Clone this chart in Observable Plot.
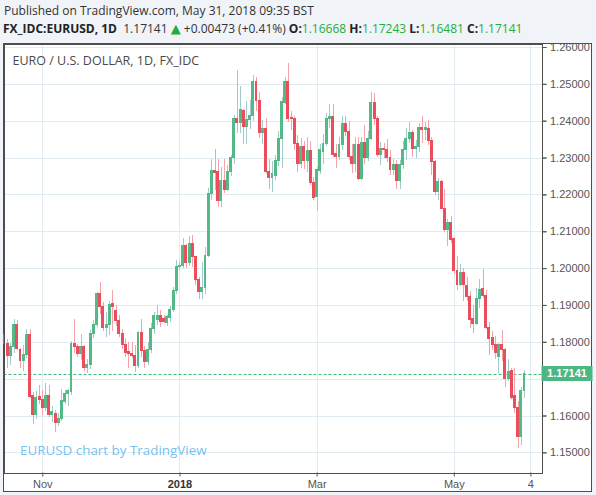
<!DOCTYPE html>
<html>
<head>
<meta charset="utf-8">
<script src="https://cdn.jsdelivr.net/npm/d3@7"></script>
<script src="https://cdn.jsdelivr.net/npm/@observablehq/plot@0.6"></script>
<style>
  html, body { margin: 0; padding: 0; background: #f0f3f7; }
  body { width: 596px; height: 495px; overflow: hidden; position: relative; }
  #hdr { height: 43px; position: relative; font-family: "Open Sans", sans-serif; color: #333; }
  #l1 { position: absolute; left: 4px; top: 2px; font-size: 12px; white-space: nowrap; }
  #l2 { position: absolute; left: 3px; top: 20px; font-size: 12px; white-space: nowrap; }
  #l2 b { font-weight: 700; color: #222; }
  #l2 .g { color: #1fae3a; }
  #l2 .tri { color: #1fae3a; font-size: 13px; font-family: "DejaVu Sans", sans-serif; }
  #wrap { position: relative; width: 596px; height: 452px; }
  #panel { position: absolute; left: 3px; top: 0px; width: 587px; height: 447px; background: #fff; border: 1px solid #4d4d4d; }
  #chart { position: absolute; left: 0; top: 0; }
</style>
</head>
<body>
<div id="hdr">
  <div id="l1">Published on TradingView.com, May 31, 2018 09:35 BST</div>
  <div id="l2"><b>FX_IDC:EURUSD, 1D</b>&nbsp; 1.17141 <span class="tri">▲</span> +0.00473 (+0.41%) <b>O:</b><span class="g">1.16668</span> <b>H:</b><span class="g">1.17243</span> <b>L:</b><span class="g">1.16481</span> <b>C:</b><span class="g">1.17141</span></div>
</div>
<div id="wrap"><div id="panel"></div><div id="chart"></div></div>
<script>
// ---- data (daily bars, weekdays from 2017-10-16 to 2018-05-31) ----
const firstDay = "2017-10-16";
const open = [
1.1819,1.1796,1.1764,1.1788,1.1846,1.1778,1.1750,1.1766,1.1820,1.1653,1.1604,1.1651,
1.1644,1.1622,1.1655,1.1604,1.1606,1.1581,1.1593,1.1638,1.1660,1.1665,1.1796,1.1787,1.1767,1.1786,1.1731,1.1739,1.1823,1.1848,1.1932,1.1897,1.1838,1.1846,
1.1905,1.1884,1.1859,1.1822,1.1794,1.1773,1.1768,1.1764,1.1736,1.1824,1.1776,1.1746,1.1780,1.1837,1.1861,1.1872,1.1862,1.1853,1.1865,1.1888,1.1940,
1.2003,1.2008,1.2061,1.2016,1.2068,1.2031,1.1968,1.1936,1.1948,1.2034,1.2203,1.2265,1.2261,1.2184,1.2237,1.2214,1.2261,1.2300,1.2407,1.2394,1.2428,1.2383,1.2403,
1.2414,1.2507,1.2455,1.2367,1.2379,1.2263,1.2247,1.2250,1.2293,1.2351,1.2449,1.2507,1.2408,1.2407,1.2338,1.2284,1.2329,1.2292,1.2320,1.2233,
1.2195,1.2265,1.2317,1.2338,1.2406,1.2411,1.2311,1.2303,1.2335,1.2393,1.2372,1.2303,1.2283,1.2335,1.2242,1.2341,1.2301,1.2353,1.2450,1.2406,1.2308,1.2324,
1.2322,1.2301,1.2268,1.2281,1.2238,1.2281,1.2322,1.2353,1.2368,1.2324,1.2329,1.2381,1.2375,1.2379,1.2345,1.2288,1.2208,1.2234,1.2163,1.2105,1.2125,
1.2079,1.1993,1.1955,1.1988,1.1954,1.1923,1.1863,1.1851,1.1917,1.1945,1.1926,1.1838,1.1811,1.1794,1.1759,1.1793,1.1779,1.1701,1.1722,1.1654,1.1623,1.1543,1.16668
];
const high = [
1.1835,1.1808,1.1796,1.1861,1.1860,1.1784,1.1790,1.1834,1.1834,1.1665,1.1667,1.1683,
1.1669,1.1687,1.1683,1.1626,1.1614,1.1608,1.1673,1.1668,1.1672,1.1802,1.1861,1.1795,1.1822,1.1792,1.1752,1.1832,1.1858,1.1936,1.1961,1.1908,1.1880,1.1910,
1.1940,1.1900,1.1872,1.1835,1.1810,1.1799,1.1800,1.1790,1.1830,1.1862,1.1789,1.1800,1.1850,1.1880,1.1900,1.1885,1.1872,1.1874,1.1897,1.1950,1.2022,
1.2020,1.2081,1.2066,1.2088,1.2090,1.2034,1.1975,1.2016,1.2058,1.2218,1.2296,1.2323,1.2296,1.2274,1.2296,1.2281,1.2306,1.2415,1.2538,1.2493,1.2432,1.2453,1.2456,
1.2524,1.2518,1.2478,1.2403,1.2406,1.2296,1.2290,1.2307,1.2373,1.2463,1.2518,1.2557,1.2427,1.2413,1.2362,1.2353,1.2345,1.2356,1.2346,1.2248,
1.2274,1.2336,1.2365,1.2420,1.2446,1.2446,1.2336,1.2356,1.2412,1.2413,1.2398,1.2337,1.2355,1.2356,1.2355,1.2387,1.2371,1.2477,1.2476,1.2414,1.2341,1.2339,
1.2349,1.2320,1.2296,1.2293,1.2294,1.2345,1.2379,1.2396,1.2376,1.2348,1.2395,1.2414,1.2397,1.2402,1.2355,1.2293,1.2245,1.2240,1.2215,1.2134,1.2141,
1.2084,1.2034,1.2011,1.1999,1.1977,1.1938,1.1899,1.1947,1.1970,1.1997,1.1941,1.1855,1.1829,1.1815,1.1797,1.1832,1.1784,1.1752,1.1729,1.1729,1.1638,1.1676,1.17243
];
const low = [
1.1787,1.1730,1.1737,1.1770,1.1778,1.1728,1.1722,1.1755,1.1648,1.1576,1.1590,1.1630,
1.1602,1.1612,1.1597,1.1583,1.1554,1.1571,1.1585,1.1630,1.1627,1.1655,1.1770,1.1760,1.1750,1.1720,1.1716,1.1725,1.1810,1.1840,1.1875,1.1830,1.1814,1.1818,
1.1830,1.1843,1.1812,1.1780,1.1760,1.1730,1.1755,1.1717,1.1730,1.1760,1.1730,1.1738,1.1770,1.1820,1.1845,1.1840,1.1852,1.1843,1.1855,1.1880,1.1930,
1.1995,1.2000,1.2000,1.2007,1.2004,1.1954,1.1915,1.1916,1.1930,1.2030,1.2185,1.2213,1.2165,1.2165,1.2204,1.2210,1.2250,1.2283,1.2366,1.2366,1.2337,1.2336,1.2378,
1.2400,1.2425,1.2353,1.2337,1.2256,1.2214,1.2206,1.2239,1.2276,1.2273,1.2445,1.2397,1.2375,1.2320,1.2260,1.2273,1.2270,1.2260,1.2225,1.2186,
1.2155,1.2256,1.2283,1.2330,1.2380,1.2301,1.2273,1.2292,1.2320,1.2358,1.2293,1.2258,1.2260,1.2239,1.2240,1.2282,1.2290,1.2347,1.2389,1.2301,1.2280,1.2300,
1.2288,1.2254,1.2254,1.2215,1.2216,1.2268,1.2294,1.2340,1.2301,1.2299,1.2315,1.2340,1.2347,1.2334,1.2252,1.2199,1.2184,1.2161,1.2097,1.2059,1.2068,
1.1984,1.1941,1.1952,1.1911,1.1911,1.1838,1.1825,1.1845,1.1891,1.1920,1.1834,1.1764,1.1777,1.1752,1.1715,1.1747,1.1676,1.1693,1.1645,1.1606,1.1511,1.1520,1.16481
];
const close = [
1.1796,1.1764,1.1788,1.1846,1.1783,1.1750,1.1766,1.1820,1.1651,1.1604,1.1648,1.1643,
1.1622,1.1655,1.1604,1.1610,1.1581,1.1593,1.1642,1.1660,1.1667,1.1796,1.1787,1.1767,1.1786,1.1731,1.1739,1.1823,1.1848,1.1932,1.1897,1.1838,1.1846,1.1902,
1.1895,1.1859,1.1822,1.1794,1.1771,1.1768,1.1764,1.1736,1.1824,1.1776,1.1746,1.1780,1.1837,1.1872,1.1872,1.1856,1.1855,1.1868,1.1888,1.1940,1.2003,
1.2008,1.2061,1.2016,1.2068,1.2031,1.1968,1.1936,1.1948,1.2034,1.2203,1.2265,1.2260,1.2184,1.2237,1.2214,1.2261,1.2300,1.2407,1.2394,1.2430,1.2383,1.2403,1.2414,
1.2507,1.2455,1.2367,1.2379,1.2263,1.2247,1.2256,1.2293,1.2351,1.2451,1.2507,1.2405,1.2405,1.2338,1.2284,1.2329,1.2292,1.2320,1.2233,1.2192,
1.2267,1.2322,1.2338,1.2406,1.2411,1.2308,1.2303,1.2335,1.2393,1.2370,1.2303,1.2283,1.2335,1.2242,1.2341,1.2301,1.2353,1.2450,1.2406,1.2308,1.2324,1.2322,
1.2301,1.2268,1.2281,1.2238,1.2281,1.2322,1.2353,1.2368,1.2324,1.2329,1.2381,1.2375,1.2382,1.2345,1.2288,1.2208,1.2234,1.2163,1.2105,1.2125,1.2077,
1.1993,1.1955,1.1988,1.1956,1.1923,1.1861,1.1851,1.1917,1.1943,1.1925,1.1838,1.1809,1.1794,1.1770,1.1792,1.1779,1.1701,1.1719,1.1650,1.1623,1.1543,1.16668,1.17141
];
const yTicks = [1.15, 1.16, 1.17, 1.18, 1.19, 1.20, 1.21, 1.22, 1.23, 1.24, 1.25, 1.26];
const xTickDates = ["2017-11-01", "2018-01-01", "2018-03-01", "2018-05-01", "2018-06-04"];
const xTickLabels = ["Nov", "2018", "Mar", "May", "4"];
const symbolTitle = "EURO / U.S. DOLLAR, 1D, FX_IDC";
const watermark = "EURUSD chart by TradingView";

// ---- trading-day index (weekdays) ----
function barIndex(ds) {
  const t0 = new Date(firstDay + "T00:00:00Z"), t1 = new Date(ds + "T00:00:00Z");
  let n = 0;
  for (let t = new Date(t0); t < t1; t.setUTCDate(t.getUTCDate() + 1)) {
    const wd = t.getUTCDay();
    if (wd !== 0 && wd !== 6) n++;
  }
  return n;
}
const bars = open.map((o, k) => ({k, o, h: high[k], l: low[k], c: close[k], up: close[k] >= o}));
const lastClose = close[close.length - 1];
const xTickPos = xTickDates.map(barIndex);
const labelAt = new Map(xTickPos.map((p, i) => [p, xTickLabels[i]]));
// the 1.17 label sits under the last-price tag, which covers it
const yLabelTicks = yTicks.filter(t => Math.abs(t - lastClose) > 0.004);

const UP = "#53b987", DN = "#eb4d5c", UPW = "#a3cbce", DNW = "#f4a3aa";
const GRID = "#e1ecf2", AXC = "#555";

const chart = Plot.plot({
  width: 596, height: 452,
  marginLeft: 3.5, marginRight: 54.5, marginTop: 0.5, marginBottom: 22.5,
  style: {background: "transparent", fontFamily: "'Liberation Sans', Arial, sans-serif", fontSize: "11px", overflow: "visible"},
  x: {type: "linear", domain: [-0.163, 168.49], axis: null},
  y: {type: "linear", domain: [1.144532, 1.260950], axis: null},
  color: {type: "identity"},
  marks: [
    Plot.gridY(yTicks, {stroke: GRID, strokeOpacity: 1, shapeRendering: "crispEdges"}),
    Plot.gridX(xTickPos, {stroke: GRID, strokeOpacity: 1, shapeRendering: "crispEdges"}),
    Plot.text([symbolTitle], {frameAnchor: "top-left", dx: 8.5, dy: 16.5, lineAnchor: "middle", fill: "#4a4a4a", fontSize: 12.5, fontFamily: "'Open Sans', sans-serif"}),
    Plot.text([watermark], {frameAnchor: "bottom-left", dx: 16, dy: -22, lineAnchor: "middle", fill: "#4fb1ee", fillOpacity: 0.8, fontSize: 13.4, fontFamily: "'Open Sans', sans-serif"}),
    Plot.ruleY([lastClose], {stroke: "#3cb878", strokeWidth: 1, strokeDasharray: "3,2", dy: 0.5}),
    Plot.ruleX(bars, {x: "k", y1: "l", y2: "h", stroke: d => d.up ? UPW : DNW, shapeRendering: "crispEdges"}),
    Plot.rect(bars, {x1: d => d.k - 0.46, x2: d => d.k + 0.46, y1: d => Math.min(d.o, d.c), y2: d => Math.max(d.o, d.c), fill: d => d.up ? UP : DN, insetTop: -0.5, insetBottom: -0.5, shapeRendering: "crispEdges"}),
    Plot.frame({stroke: "#4d4d4d", shapeRendering: "crispEdges"}),
    Plot.axisY(yTicks, {anchor: "right", tickSize: 4, text: null, stroke: AXC, label: null}),
    Plot.axisY(yLabelTicks, {anchor: "right", tickSize: 4, tickPadding: 4, tickFormat: d => d.toFixed(5), stroke: AXC, fill: AXC, fontSize: 11, label: null}),
    Plot.axisX(xTickPos.filter(p => labelAt.get(p) !== "2018"), {anchor: "bottom", tickSize: 4, tickPadding: 3, tickFormat: d => labelAt.get(d), stroke: AXC, fill: AXC, fontSize: 11, label: null}),
    Plot.axisX(xTickPos.filter(p => labelAt.get(p) === "2018"), {anchor: "bottom", tickSize: 4, tickPadding: 3, tickFormat: d => labelAt.get(d), stroke: AXC, fill: "#333", fontWeight: "bold", fontSize: 11, label: null}),
    (index, scales, values, dims) => {
      const g = d3.create("svg:g");
      const y = Math.round(scales.y(lastClose));
      const x0 = dims.width - dims.marginRight;
      g.append("rect").attr("x", x0).attr("y", y - 7).attr("width", 51).attr("height", 15).attr("fill", "#4cb783");
      g.append("text").attr("x", x0 + 25.5).attr("y", y + 0.5).attr("dy", "0.35em").attr("text-anchor", "middle")
        .attr("fill", "#fff").attr("font-weight", "bold").attr("font-size", 11).text(lastClose.toFixed(5));
      return g.node();
    }
  ]
});
document.getElementById("chart").append(chart);
</script>
</body>
</html>
